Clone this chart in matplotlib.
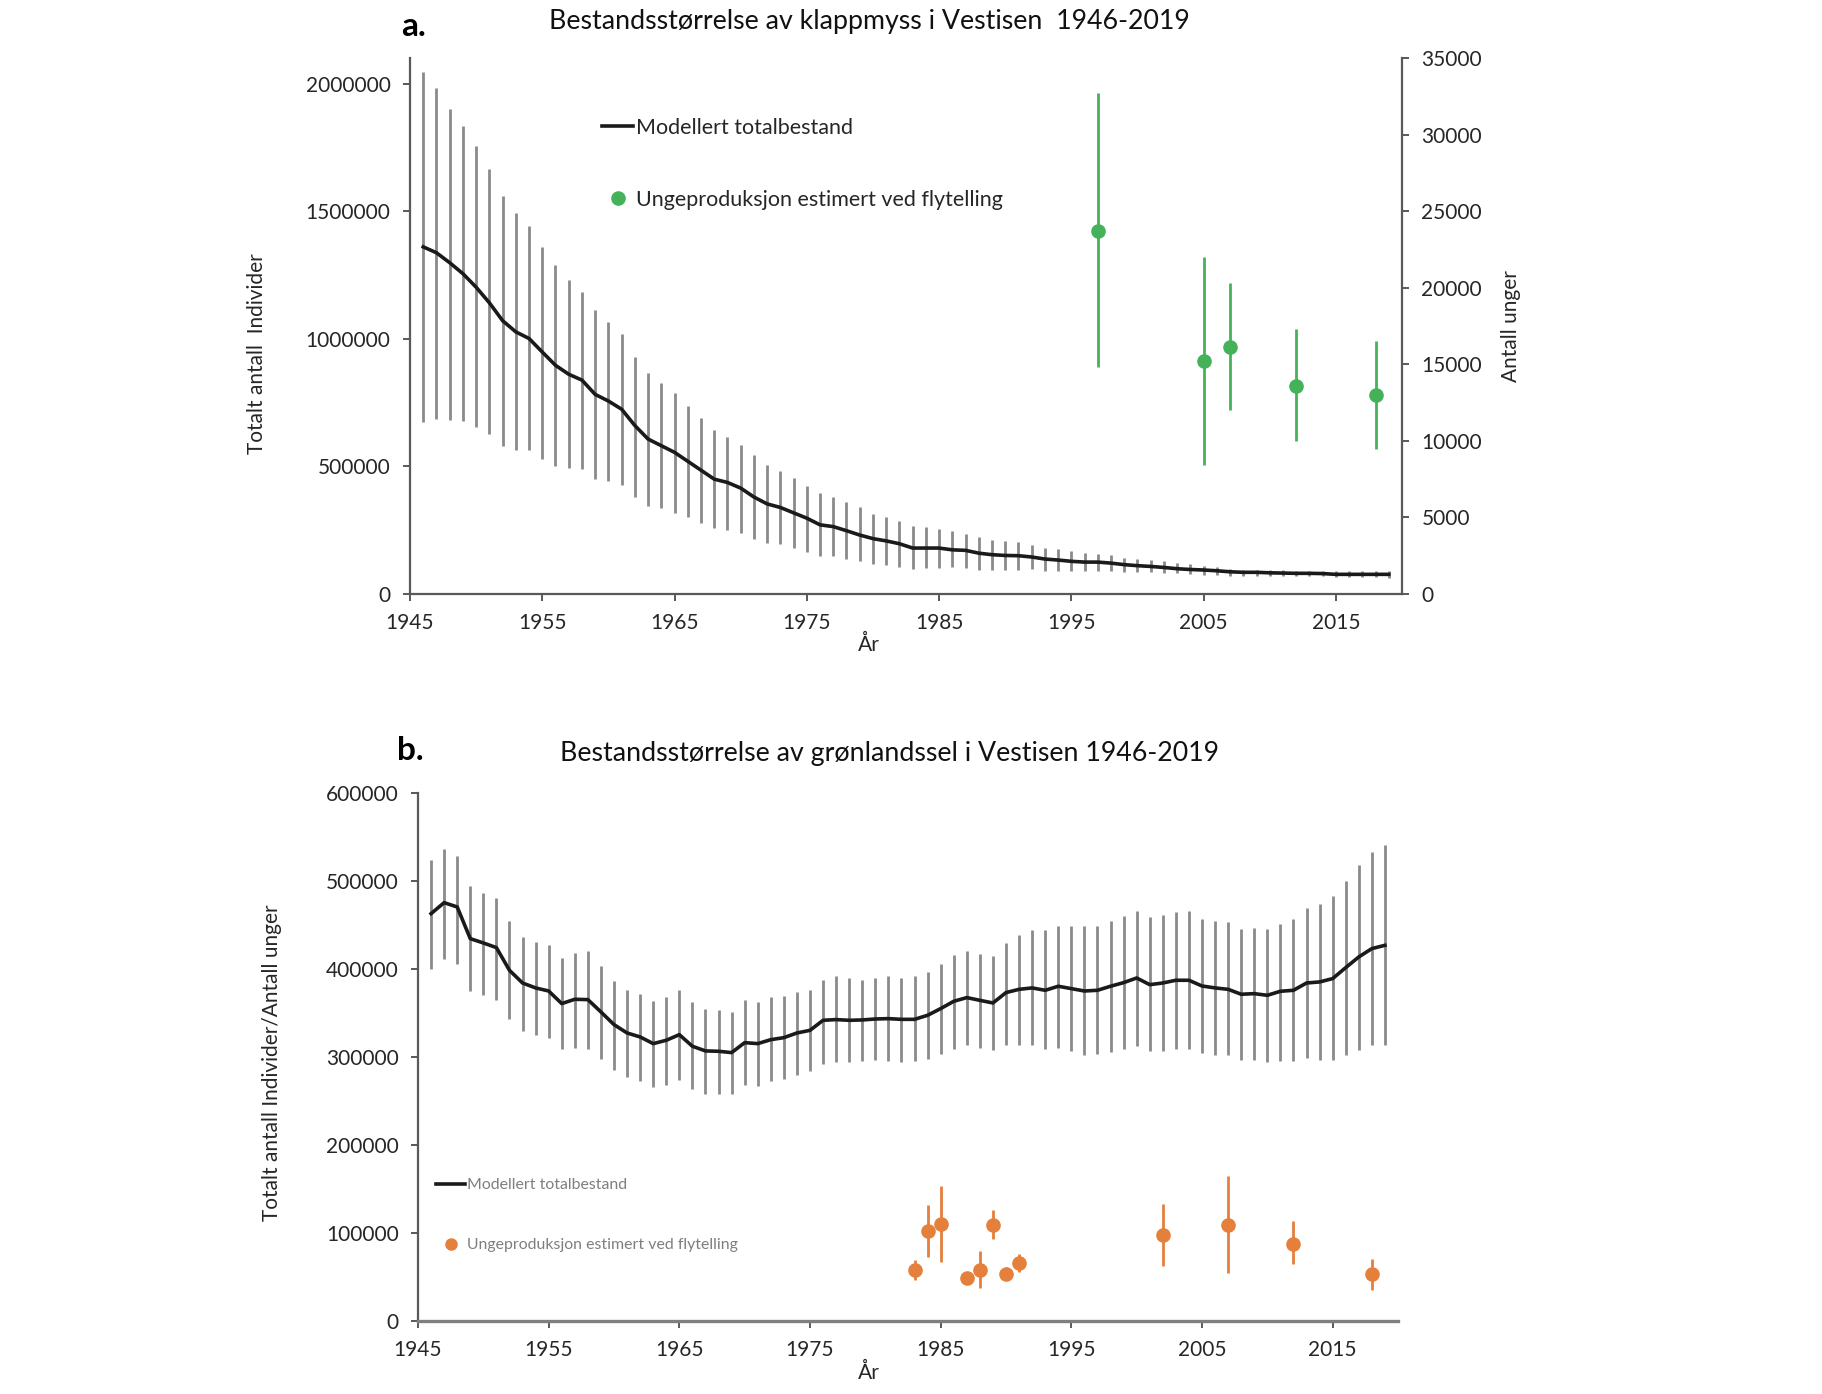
import matplotlib
matplotlib.use('Agg')
import matplotlib.pyplot as plt
from matplotlib.lines import Line2D

plt.rcParams['font.family'] = ['Lato', 'DejaVu Sans']

# ---------------- data ----------------
years = list(range(1946, 2020))

# Panel a: klappmyss (hooded seal), modelled total population
hm_mean = [1360000, 1337000, 1298000, 1255000, 1202000, 1141000, 1071000, 1027000, 1001000, 948000,
           896000, 861000, 838000, 782000, 756000, 724000, 660000, 607000, 581000, 555000,
           520000, 485000, 450000, 437000, 415000, 380000, 353000, 339000, 318000, 297000,
           271000, 264000, 248000, 231000, 217000, 208000,
           197000, 180000, 180000, 180000, 173000, 171000, 160000, 154000, 151000, 150000,
           145000, 137000, 133000, 128000, 125000, 125000, 121000, 115000, 111000, 108000,
           104000, 99000, 96000, 94000, 91000, 87000, 85000, 85000, 83000, 82000,
           81000, 81000, 80000, 77000, 77000, 77000, 77000, 77000]
hm_high = [2046000, 1981000, 1902000, 1832000, 1754000, 1664000, 1561000, 1493000, 1442000, 1360000,
           1290000, 1232000, 1185000, 1111000, 1066000, 1019000, 928000, 865000, 826000, 786000,
           735000, 690000, 641000, 616000, 585000, 543000, 506000, 483000, 453000, 424000,
           394000, 380000, 361000, 340000, 313000, 301000,
           286000, 268000, 262000, 254000, 245000, 236000, 223000, 213000, 209000, 202000,
           193000, 180000, 176000, 167000, 160000, 158000, 151000, 143000, 137000, 132000,
           128000, 121000, 117000, 108000, 104000, 99000, 95000, 93000, 93000, 93000,
           91000, 91000, 91000, 89000, 89000, 89000, 89000, 91000]
hm_low = [672000, 686000, 683000, 677000, 656000, 625000, 581000, 564000, 564000, 529000,
          502000, 494000, 490000, 450000, 441000, 427000, 380000, 345000, 336000, 319000,
          301000, 280000, 257000, 249000, 240000, 217000, 200000, 196000, 182000, 165000,
          147000, 147000, 138000, 130000, 117000, 112000,
          106000, 98000, 102000, 102000, 106000, 102000, 95000, 95000, 95000, 95000,
          98000, 91000, 91000, 89000, 91000, 91000, 89000, 85000, 85000, 85000,
          82000, 82000, 80000, 76000, 76000, 72000, 72000, 72000, 72000, 72000,
          69000, 69000, 69000, 66000, 66000, 66000, 66000, 63000]

# Panel a: pup production (right axis)
pup_years_a = [1997, 2005, 2007, 2012, 2018]
pup_a = [23700, 15200, 16100, 13600, 13000]
pup_a_hi = [32700, 22000, 20300, 17300, 16500]
pup_a_lo = [14800, 8400, 12000, 10000, 9500]

# Panel b: grønlandssel (harp seal)
hs_mean = [462900, 475400, 470500, 434500, 429600, 424300, 398500, 384100, 378500, 375000,
           360700, 365600, 365200, 351200, 336800, 327300, 322800, 315200, 319000, 325400,
           312200, 306900, 306500, 305000, 316300, 315200, 319700, 322000, 327300, 330300,
           341700, 342500, 341700, 342100, 343200, 343600, 342800, 342800,
           347400, 355000, 363300, 367500, 364400, 361400, 373200, 376900, 378500, 375800,
           380400, 377700, 375000, 375800, 380400, 384500, 389800, 382200, 384100, 387200,
           387200, 380700, 378500, 376900, 371300, 372000, 370100, 374700, 375800, 384100,
           385300, 389100, 401600, 413700, 423200, 426900]
hs_high = [524300, 536800, 528100, 494000, 486800, 481100, 454600, 436400, 430700, 427700,
           412900, 418600, 420500, 403800, 386400, 376600, 372000, 363700, 367900, 376600,
           362200, 354200, 353100, 351200, 364400, 362500, 368200, 369400, 373500, 375800,
           387900, 391700, 390200, 387900, 390200, 392100, 390200, 391700,
           396600, 406100, 415600, 420100, 417500, 414800, 430000, 439100, 444000, 444000,
           448500, 448500, 448500, 448500, 454600, 459900, 466000, 459100, 461000, 464800,
           466000, 457200, 454200, 453500, 445900, 447000, 445900, 451600, 457200, 469700,
           473500, 482600, 500100, 517900, 533000, 541300]
hs_low = [399700, 411000, 405400, 374700, 370100, 364400, 342900, 329600, 325400, 322000,
          308800, 310700, 308800, 297400, 284900, 277300, 272800, 266000, 268600, 274300,
          263300, 258400, 258400, 258400, 267800, 267100, 272800, 274700, 280000, 283800,
          292500, 294000, 294000, 295500, 297000, 295500, 294400, 295500,
          297400, 303800, 309500, 313300, 310700, 308400, 314100, 314100, 313300, 308800,
          310700, 306900, 302700, 303100, 305700, 308800, 312500, 306500, 306900, 308800,
          308800, 305000, 302700, 301900, 297000, 297000, 294400, 295500, 295500, 298900,
          296300, 296300, 301900, 308400, 313300, 313300]

pup_years_b = [1983, 1984, 1985, 1987, 1988, 1989, 1990, 1991, 2002, 2007, 2012, 2018]
pup_b = [57600, 101900, 110700, 49300, 57600, 109500, 53800, 66000, 97400, 109500, 87900, 53100]
pup_b_hi = [69700, 132200, 153500, 52000, 79200, 125800, 61400, 76600, 132600, 164400, 113300, 70900]
pup_b_lo = [47000, 72800, 67100, 46500, 37500, 93600, 48100, 55700, 62500, 55000, 64400, 34900]

x_ticks = [1945, 1955, 1965, 1975, 1985, 1995, 2005, 2015]
a_left_ticks = [0, 500000, 1000000, 1500000, 2000000]
a_right_ticks = [0, 5000, 10000, 15000, 20000, 25000, 30000, 35000]
b_ticks = [0, 100000, 200000, 300000, 400000, 500000, 600000]

# ---------------- styling ----------------
GREEN = '#45B25A'
ORANGE = '#E5803C'
BAR = '#8a8a8a'
LINE = '#1a1a1a'
SPINE = '#595959'
TXT = '#262626'
TICKFS = 15

W, H = 1822, 1394
fig = plt.figure(figsize=(W / 100, H / 100), dpi=100)


def style_axis(ax, sides):
    for s in ['top', 'right', 'left', 'bottom']:
        ax.spines[s].set_visible(s in sides)
        ax.spines[s].set_color(SPINE)
        ax.spines[s].set_linewidth(1.6)
    ax.tick_params(axis='both', labelsize=TICKFS, colors=SPINE, labelcolor=TXT,
                   length=5, width=1.4, pad=9, direction='out')


# ---------- panel a ----------
axa = fig.add_axes([410 / W, 1 - 594 / H, 992 / W, 536 / H])
axa2 = axa.twinx()
axa.vlines(years, hm_low, hm_high, color=BAR, lw=2)
axa.plot(years, hm_mean, color=LINE, lw=2.6)
axa.set_xlim(1945, 2020)
axa.set_ylim(0, 2100000)
axa.set_xticks(x_ticks)
axa.set_xticklabels([str(v) for v in x_ticks])
axa.set_yticks(a_left_ticks)
axa.set_yticklabels([str(v) for v in a_left_ticks])
style_axis(axa, ['left', 'bottom'])
axa.set_facecolor('none')

axa2.errorbar(pup_years_a, pup_a,
              yerr=[[m - l for m, l in zip(pup_a, pup_a_lo)], [h - m for m, h in zip(pup_a, pup_a_hi)]],
              fmt='o', color=GREEN, ms=9.5, elinewidth=2, capsize=0)
axa2.set_ylim(0, 35000)
axa2.set_yticks(a_right_ticks)
axa2.set_yticklabels([str(v) for v in a_right_ticks])
style_axis(axa2, ['right'])

fig.text(257 / W, 1 - 354 / H, 'Totalt antall  Individer', rotation=90, ha='center', va='center',
         fontsize=15, color=TXT)
fig.text(1511 / W, 1 - 326 / H, 'Antall unger', rotation=90, ha='center', va='center',
         fontsize=15, color=TXT)
fig.text(869 / W, 1 - 645 / H, 'År', ha='center', va='center', fontsize=15, color=TXT)
fig.text(413 / W, 1 - 26 / H, 'a.', ha='center', va='center', fontsize=24, fontweight='bold')
fig.text(869 / W, 1 - 22 / H, 'Bestandsstørrelse av klappmyss i Vestisen  1946-2019',
         ha='center', va='center', fontsize=19.3, color='#111111')

h_a = [Line2D([], [], color=LINE, lw=2.6),
       Line2D([], [], color=GREEN, marker='o', ms=9.5, ls='none')]
fig.legend(h_a, ['Modellert totalbestand', 'Ungeproduksjon estimert ved flytelling'],
           loc='upper left', bbox_to_anchor=(602 / W, 1 - 118 / H), frameon=False,
           fontsize=15.5, handlelength=1.45, handletextpad=0.12, labelspacing=2.4,
           borderpad=0, borderaxespad=0, labelcolor=TXT)

# ---------- panel b ----------
axb = fig.add_axes([418 / W, 1 - 1321 / H, 980 / W, 528 / H])
axb.vlines(years, hs_low, hs_high, color=BAR, lw=2)
axb.plot(years, hs_mean, color=LINE, lw=2.6)
axb.errorbar(pup_years_b, pup_b,
             yerr=[[m - l for m, l in zip(pup_b, pup_b_lo)], [h - m for m, h in zip(pup_b, pup_b_hi)]],
             fmt='o', color=ORANGE, ms=9.5, elinewidth=2, capsize=0)
axb.set_xlim(1945, 2020)
axb.set_ylim(0, 600000)
axb.set_xticks(x_ticks)
axb.set_xticklabels([str(v) for v in x_ticks])
axb.set_yticks(b_ticks)
axb.set_yticklabels([str(v) for v in b_ticks])
style_axis(axb, ['left', 'bottom'])
axb.spines['bottom'].set_color('#7f7f7f')
axb.spines['bottom'].set_linewidth(2.4)

fig.text(272 / W, 1 - 1063 / H, 'Totalt antall Individer/Antall unger', rotation=90,
         ha='center', va='center', fontsize=15, color=TXT)
fig.text(869 / W, 1 - 1373 / H, 'År', ha='center', va='center', fontsize=15, color=TXT)
fig.text(410 / W, 1 - 751 / H, 'b.', ha='center', va='center', fontsize=24, fontweight='bold')
fig.text(890 / W, 1 - 754 / H, 'Bestandsstørrelse av grønlandssel i Vestisen 1946-2019',
         ha='center', va='center', fontsize=19.3, color='#111111')

h_b = [Line2D([], [], color=LINE, lw=2.6),
       Line2D([], [], color=ORANGE, marker='o', ms=8, ls='none')]
fig.legend(h_b, ['Modellert totalbestand', 'Ungeproduksjon estimert ved flytelling'],
           loc='upper left', bbox_to_anchor=(436 / W, 1 - 1178 / H), frameon=False,
           fontsize=11.4, handlelength=1.85, handletextpad=0.12, labelspacing=2.9,
           borderpad=0, borderaxespad=0, labelcolor='#7f7f7f')

fig.savefig('out.png', dpi=100, facecolor='white')
